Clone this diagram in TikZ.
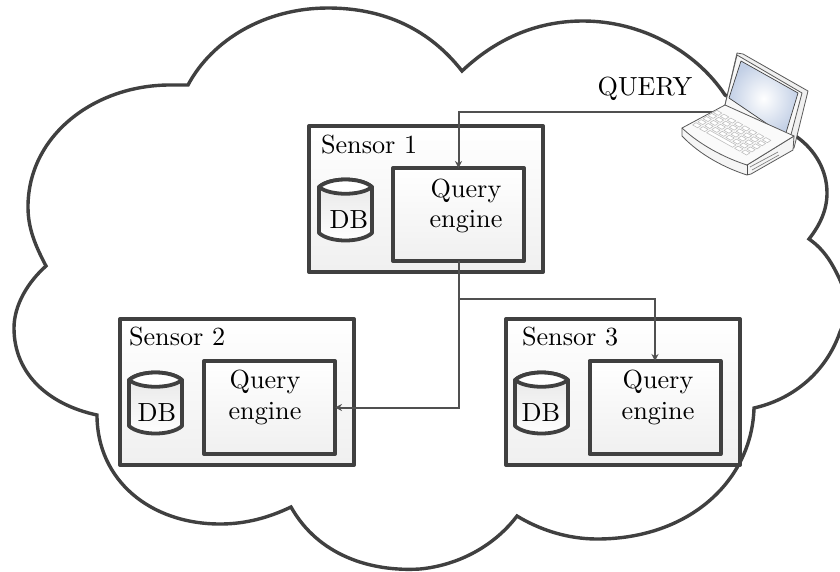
\documentclass[tikz,border=0pt]{standalone}
\usetikzlibrary{arrows.meta}
\definecolor{ink}{HTML}{404040}
\definecolor{wire}{HTML}{505050}
\definecolor{scr}{HTML}{C3D0E6}
\tikzset{
  cloudline/.style={draw=ink,line width=3.4pt,fill=white,line join=miter},
  boxbase/.style={draw=ink,rectangle,inner sep=0pt,outer sep=0pt,top color=white,bottom color=black!6,line join=round},
  sensorbox/.style={boxbase,line width=4pt,minimum width=234pt,minimum height=146pt},
  enginebox/.style={boxbase,line width=4pt,minimum width=131pt,minimum height=93pt},
  txt/.style={scale=2.62,inner sep=0pt,outer sep=0pt,anchor=base,text=black},
  txtl/.style={txt,anchor=base west},
  conn/.style={draw=wire,line width=2pt},
  tip/.style={-{Stealth[length=7pt,width=7pt]}},
  cyl/.style={draw=ink,line width=3.8pt,line join=round},
  lapline/.style={draw=black!65,line width=0.8pt,line join=round},
  keycap/.style={draw=black!25,line width=0.6pt,fill=white,line join=round},
}
\newcommand{\dbdrum}[2]{%
  \begin{scope}[shift={(#1,#2)}]
    \path[cyl,top color=black!10,bottom color=white]
      (319,187) .. controls (330,177) and (361,177) .. (372,187)
      -- (372,233) .. controls (361,243) and (330,243) .. (319,233) -- cycle;
    \path[cyl,fill=white]
      (319,187) .. controls (330,177) and (361,177) .. (372,187)
      .. controls (361,196) and (330,196) .. (319,187) -- cycle;
  \end{scope}}
\begin{document}
\begin{tikzpicture}[x=1pt,y=-1pt]
\clip (0,0) rectangle (840,571);
\fill[white] (0,0) rectangle (840,571);
% cloud
\path[cloudline]
  (188,85) .. controls (212,40) and (265,8) .. (328,8)
  .. controls (385,8) and (430,30) .. (462,71)
  .. controls (495,40) and (535,21) .. (583,21)
  .. controls (640,21) and (695,50) .. (725,95)
  .. controls (745,105) and (775,120) .. (797,137)
  .. controls (815,150) and (827,170) .. (827,193)
  .. controls (827,210) and (820,225) .. (809,239)
  .. controls (825,250) and (833,265) .. (840,280)
  .. controls (848,298) and (848,315) .. (840,332)
  .. controls (825,375) and (790,400) .. (754,408)
  .. controls (752,480) and (690,539) .. (597,539)
  .. controls (568,539) and (540,530) .. (517,516)
  .. controls (495,545) and (460,565) .. (420,569)
  .. controls (370,572) and (318,555) .. (291,507)
  .. controls (268,518) and (245,524) .. (220,524)
  .. controls (150,524) and (97,480) .. (97,415)
  .. controls (50,405) and (14,375) .. (14,328)
  .. controls (14,305) and (28,282) .. (46,266)
  .. controls (35,245) and (28,228) .. (28,207)
  .. controls (28,135) and (95,85) .. (170,85)
  -- cycle;
% sensors
\node[sensorbox] (s1) at (426,199) {};
\node[sensorbox] (s2) at (237,392) {};
\node[sensorbox] (s3) at (623,392) {};
\node[enginebox] (e1) at (458.5,214.5) {};
\node[enginebox] (e2) at (269.5,407.5) {};
\node[enginebox] (e3) at (655,407.5) {};
\dbdrum{0}{0}
\dbdrum{-190}{193}
\dbdrum{196}{193}
% labels
\node[txtl] (l1) at (321,153) {Sensor 1};
\node[txtl] (l2) at (129,345) {Sensor 2};
\node[txtl] (l3) at (522,345) {Sensor 3};
\node[txt] (q1) at (466,197) {Query};
\node[txt] (g1) at (466,227.5) {engine};
\node[txt] (q2) at (265,388) {Query};
\node[txt] (g2) at (265,419) {engine};
\node[txt] (q3) at (658,388) {Query};
\node[txt] (g3) at (658,419) {engine};
\node[txt] (d1) at (349,228) {DB};
\node[txt] (d2) at (157,421) {DB};
\node[txt] (d3) at (541,421) {DB};
\node[txt] (qq) at (645,95) {QUERY};
% connectors
\coordinate (lap) at (716,112);
\coordinate (fork) at (e1.south |- 0,299);
\coordinate (drop) at (e1.south |- e2.east);
\draw[conn,tip] (lap) -| (e1.north);
\draw[conn] (e1.south) -- (fork);
\draw[conn,tip] (fork) -- (drop) -- (e2.east);
\draw[conn,tip] (fork) -| (e3.north);
% laptop
\path[lapline,fill=black!6] (725,105) -- (737,53) -- (743,54) -- (808,91) -- (794,148) -- (770,140) -- cycle;
\path[lapline,fill=black!3] (725,105) -- (737,55) -- (802,93) -- (788,146) -- cycle;
\path[lapline,draw=black!75,inner color=white,outer color=scr,line width=0.7pt] (741,61) -- (798,93) -- (785,136) -- (729,98) -- cycle;
\path[lapline,fill=black!4] (682,128) -- (682,136) .. controls (700,155) and (725,168) .. (747,175)
  -- (751,174) -- (793,150) -- (794,136) -- (747,165) -- cycle;
\path[lapline,fill=black!2] (682,128) -- (725,105) -- (794,136) -- (747,165) .. controls (725,158) and (700,145) .. (682,128) -- cycle;
\draw[black!50,line width=0.7pt] (750,167) -- (778,152) (752,170) -- (779,155);
\draw[black!70,line width=0.7pt] (747,165) -- (747,175);
% keys
\foreach \j in {0,...,4}{
  \foreach \i in {0,...,7}{
    \pgfmathsetmacro{\px}{690+\i*7+(\j+0.5)*5.2}
    \pgfmathsetmacro{\py}{126.5+\i*3.9-(\j+0.5)*3.1}
    \ifnum\j=0
      \ifnum\i>1 \ifnum\i<6 \else
        \path[keycap] (\px,\py) -- ++(3.4,-2.3) -- ++(5,2.8) -- ++(-3.4,2.3) -- cycle;
      \fi \else
        \path[keycap] (\px,\py) -- ++(3.4,-2.3) -- ++(5,2.8) -- ++(-3.4,2.3) -- cycle;
      \fi
    \else
      \path[keycap] (\px,\py) -- ++(3.4,-2.3) -- ++(5,2.8) -- ++(-3.4,2.3) -- cycle;
    \fi
  }
}
\path[keycap] (706.6,132.75) -- ++(3.4,-2.3) -- ++(26,14.5) -- ++(-3.4,2.3) -- cycle;
\end{tikzpicture}
\end{document}
